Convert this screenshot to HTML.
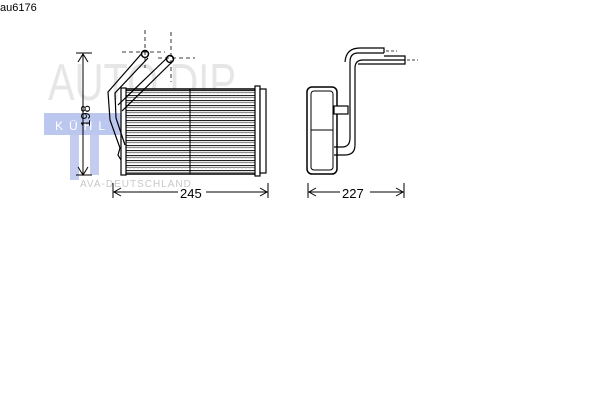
<!DOCTYPE html>
<html><head><style>body{margin:0;background:#fff}svg{display:block}</style></head><body>
<svg width="600" height="400" viewBox="0 0 600 400" xmlns="http://www.w3.org/2000/svg" font-family="Liberation Sans, sans-serif">
<defs>
<pattern id="fin" width="4" height="5" patternUnits="userSpaceOnUse">
<rect width="4" height="5" fill="#fff"/>
<line x1="0" y1="0.5" x2="4" y2="0.5" stroke="#222" stroke-width="1"/>
<path d="M0 3 L1 2 L2 3 L3 2 L4 3" fill="none" stroke="#777" stroke-width="0.8"/>
</pattern>
</defs>
<text x="0" y="11" font-size="11" fill="#000">au6176</text>
<!-- watermark -->
<text x="48" y="100" font-size="52" fill="#e6e6e6" textLength="188" lengthAdjust="spacingAndGlyphs">AUTO DIP</text>
<rect x="44" y="113" width="90" height="22" fill="#bcc7ef"/>
<rect x="70" y="135" width="9" height="45" fill="#c4cdf0"/>
<rect x="90" y="135" width="9" height="40" fill="#c4cdf0"/>
<text x="55" y="130" font-size="12" fill="#fff" letter-spacing="6">KÜHL</text>
<text x="80" y="187" font-size="10" fill="#c8c8c8" letter-spacing="1">AVA-DEUTSCHLAND</text>
<g stroke="#000" fill="none">
<rect x="124" y="89" width="132" height="85" fill="url(#fin)" stroke-width="1.5"/>
<line x1="190" y1="89" x2="190" y2="174" stroke-width="1"/>
<rect x="121" y="88" width="5" height="87" fill="#fff" stroke-width="1.2"/>
<rect x="255" y="86" width="5" height="90" fill="#fff" stroke-width="1.2"/>
<rect x="260" y="89" width="6" height="84" fill="#fff" stroke-width="1.2"/>
<path d="M143 52 L108 92 L110 120 L120 148 L118 155 L121 160" stroke-width="1.2"/>
<path d="M148 58 L115 93 L116 118 L125 145" stroke-width="1.2"/>
<path d="M168 57 L118 105" stroke-width="1.2"/>
<path d="M173 61 L122 111" stroke-width="1.2"/>
<circle cx="145" cy="54" r="3.5" fill="#fff" stroke-width="1.5"/>
<circle cx="170" cy="59" r="3.5" fill="#fff" stroke-width="1.5"/>
<g stroke-dasharray="4,3" stroke-width="0.8">
<line x1="145" y1="30" x2="145" y2="68"/><line x1="122" y1="52" x2="165" y2="52"/>
<line x1="171" y1="32" x2="171" y2="82"/><line x1="158" y1="58" x2="195" y2="58"/>
</g>
<line x1="83" y1="54" x2="83" y2="175" stroke-width="1"/>
<line x1="76" y1="53" x2="92" y2="53"/><line x1="76" y1="175" x2="92" y2="175"/>
<path d="M78 62 L83 54 L88 62 M78 167 L83 175 L88 167" stroke-width="1"/>
<line x1="113" y1="192" x2="178" y2="192"/><line x1="206" y1="192" x2="268" y2="192"/>
<line x1="113" y1="183" x2="113" y2="198"/><line x1="268" y1="183" x2="268" y2="198"/>
<path d="M121 188 L114 192 L121 196 M260 188 L267 192 L260 196"/>
<rect x="307" y="87" width="30" height="87" rx="5" fill="#fff" stroke-width="1.5"/>
<rect x="311" y="91" width="22" height="79" rx="3" stroke-width="1"/>
<line x1="311" y1="130" x2="333" y2="130"/>
<rect x="334" y="106" width="14" height="8" fill="#fff" stroke-width="1.2"/>
<path d="M334 147 L342 147 Q350 147 350 138 L350 62 Q350 53 358 53 L384 53" stroke-width="1.2"/>
<path d="M334 155 L345 155 Q355 155 355 145 L355 68 Q355 60 363 60 L405 60" stroke-width="1.2"/>
<path d="M345 62 Q346 48 360 48 L384 48 L384 53" stroke-width="1.2"/>
<path d="M384 56 L405 56 L405 64 L358 64" stroke-width="1.2"/>
<g stroke-dasharray="3,2" stroke-width="0.8"><line x1="386" y1="51" x2="397" y2="51"/><line x1="407" y1="60" x2="418" y2="60"/></g>
<line x1="308" y1="192" x2="340" y2="192"/><line x1="370" y1="192" x2="404" y2="192"/>
<line x1="308" y1="183" x2="308" y2="198"/><line x1="404" y1="183" x2="404" y2="198"/>
<path d="M316 188 L309 192 L316 196 M396 188 L403 192 L396 196"/>
</g>
<text x="180" y="198" font-size="13">245</text>
<text x="342" y="198" font-size="13">227</text>
<text transform="translate(90,116) rotate(-90)" font-size="13" text-anchor="middle">198</text>
</svg>
</body></html>
